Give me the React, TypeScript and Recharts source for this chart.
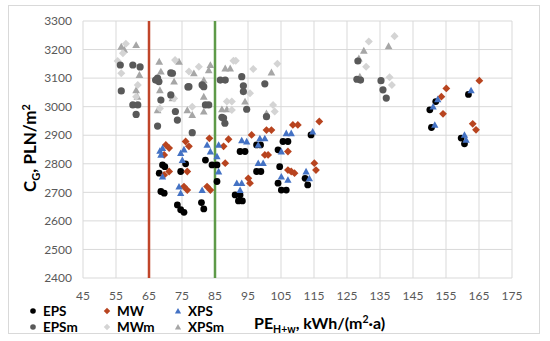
import React from 'react';
import { ScatterChart, Scatter, XAxis, YAxis, CartesianGrid, ReferenceLine, Legend, Label } from 'recharts';

type P = [number, number];

const EPS: P[] = [
  [68.6, 2703], [69.6, 2697], [68.1, 2767], [69.1, 2796], [69.8, 2790], [73.6, 2656], [74.6, 2639], [75.6, 2630],
  [74.6, 2773], [76.1, 2800], [80.9, 2664], [81.6, 2642], [82.1, 2813], [84.1, 2796], [85.6, 2796], [85.6, 2738],
  [91.1, 2691], [92.6, 2691], [92.1, 2670], [93.3, 2670], [92.6, 2843], [94.1, 2843], [97.6, 2866], [98.8, 2866],
  [97.6, 2773], [98.9, 2773], [104.1, 2849], [105.6, 2878], [107.1, 2878], [104.6, 2790], [104.1, 2732],
  [105.1, 2708], [106.6, 2708], [112.3, 2749], [113.1, 2726], [114.1, 2901], [150.1, 2989], [151.9, 3018],
  [150.6, 2927], [161.8, 3043], [159.6, 2890], [160.6, 2870],
];

const MW: P[] = [
  [70.1, 2866], [71.1, 2855], [69.6, 2831], [71.1, 2773], [69.6, 2761], [76.1, 2878], [77.1, 2861], [76.6, 2773],
  [75.6, 2720], [76.6, 2708], [82.6, 2720], [83.6, 2708], [83.3, 2889], [88.1, 2802], [89.1, 2886], [87.6, 2861],
  [95.1, 2749], [95.6, 2732], [96.1, 2901], [100.6, 2918], [102.1, 2918], [100.1, 2831], [101.1, 2831],
  [108.6, 2936], [110.1, 2936], [107.1, 2843], [107.1, 2778], [108.1, 2773], [109.1, 2767], [116.6, 2948],
  [115.1, 2802], [115.6, 2778], [155.1, 3064], [153.6, 3035], [154.1, 2975], [165.1, 3091], [163.1, 2940],
  [164.1, 2919],
];

const XPS: P[] = [
  [69.1, 2855], [68.6, 2831], [69.1, 2755], [68.3, 2845], [74.6, 2837], [75.1, 2813], [74.1, 2720], [74.6, 2697],
  [75.6, 2850], [81.1, 2708], [82.6, 2866], [86.1, 2866], [85.6, 2826], [86.1, 2773], [83.6, 2843], [93.1, 2882],
  [94.6, 2878], [91.6, 2732], [93.1, 2732], [92.6, 2708], [98.6, 2889], [100.1, 2889], [98.1, 2866], [98.1, 2802],
  [99.6, 2802], [106.6, 2907], [108.1, 2907], [105.1, 2843], [105.1, 2755], [107.1, 2744], [114.6, 2913],
  [112.6, 2773], [113.6, 2749], [151.1, 3000], [152.5, 3026], [151.6, 2936], [162.6, 3057], [160.6, 2901],
  [161.1, 2884],
];

const EPSm: P[] = [
  [56.3, 3146], [60.1, 3146], [62.3, 3139], [56.6, 3055], [60.1, 3006], [61.6, 3006], [61.1, 2973], [67, 3093],
  [68, 3088], [67.6, 3100], [71.6, 3118], [72.1, 3117], [76.8, 3069], [71.6, 3041], [73, 2983], [68.6, 3023],
  [67.6, 2932], [73.6, 2953], [78.1, 2909], [82.1, 3006], [83.1, 3006], [81.1, 3076], [81.6, 3070], [77.1, 3070],
  [86.6, 3093], [88.1, 3093], [93.1, 3105], [93.6, 3073], [93.6, 3053], [100.1, 3080], [94.6, 2991], [87.1, 2963],
  [87.6, 2960], [100.6, 2965], [88, 2942], [128.3, 3160], [128, 3096], [129.1, 3093], [135.3, 3091],
  [135.9, 3059], [136.9, 3030],
];

const MWm: P[] = [
  [57.1, 3187], [56.6, 3117], [61.1, 3035], [61.6, 3076], [72.6, 3029], [78.1, 3000], [77.1, 3123], [68.3, 2994],
  [72.9, 3163], [80.1, 3140], [90.6, 3161], [91.3, 3161], [96.6, 3132], [103.9, 3150], [95.6, 3047], [88.6, 3018],
  [90.1, 3018], [90.1, 2988], [103.1, 2983], [102.6, 3006], [131.6, 3228], [130.8, 3140], [139.4, 3247],
  [137.9, 3103], [138.6, 3076], [58, 3220], [55.5, 3160],
];

const XPSm: P[] = [
  [56.6, 3210], [61.1, 3216], [57.5, 3200], [62.1, 3111], [68.1, 3158], [74.1, 3158], [68.6, 3123], [68.3, 3058],
  [72.6, 3088], [61.1, 3058], [61.5, 3035], [67.6, 2988], [72.1, 3030], [76.6, 2988], [78.1, 2971], [78.6, 3117],
  [83.1, 3128], [83.6, 3146], [88.1, 3134], [89.6, 3134], [102.1, 3120], [81.6, 3093], [81.6, 3035], [94.1, 3018],
  [87.1, 2991], [88.6, 2991], [100.6, 2977], [81.6, 2983], [130.1, 3196], [137.6, 3212], [128.9, 3105],
  [128.6, 3169],
];

const X_TICKS = [45, 55, 65, 75, 85, 95, 105, 115, 125, 135, 145, 155, 165, 175];
const Y_TICKS = [2400, 2500, 2600, 2700, 2800, 2900, 3000, 3100, 3200, 3300];
const REF_LINES = [65, 85];

const toPts = (a: P[]) => a.map(([x, y]) => ({ x, y }));

type Kind = 'circle' | 'diamond' | 'triangle';

const C_EPS = '#000000';
const C_MW = '#B8441F';
const C_XPS = '#4472C4';
const C_EPSm = '#595959';
const C_MWm = '#D4D4D4';
const C_XPSm = '#A6A6A6';

function Marker({ kind, cx, cy, color, s }: { kind: Kind; cx: number; cy: number; color: string; s: number }) {
  if (kind === 'circle') return <circle cx={cx} cy={cy} r={s} fill={color} />;
  if (kind === 'diamond') {
    const d = s * 1.15;
    return <polygon points={`${cx},${cy - d} ${cx + d},${cy} ${cx},${cy + d} ${cx - d},${cy}`} fill={color} />;
  }
  const h = s * 1.1;
  return <polygon points={`${cx},${cy - h} ${cx + h},${cy + h * 0.8} ${cx - h},${cy + h * 0.8}`} fill={color} />;
}

const shapeFn = (kind: Kind, color: string, s: number) => (props: any) => (
  <Marker kind={kind} cx={props.cx} cy={props.cy} color={color} s={s} />
);

const LEGEND_ITEMS: { name: string; kind: Kind; color: string; col: number; row: number }[] = [
  { name: 'EPS', kind: 'circle', color: C_EPS, col: 0, row: 0 },
  { name: 'MW', kind: 'diamond', color: C_MW, col: 1, row: 0 },
  { name: 'XPS', kind: 'triangle', color: C_XPS, col: 2, row: 0 },
  { name: 'EPSm', kind: 'circle', color: C_EPSm, col: 0, row: 1 },
  { name: 'MWm', kind: 'diamond', color: C_MWm, col: 1, row: 1 },
  { name: 'XPSm', kind: 'triangle', color: C_XPSm, col: 2, row: 1 },
];

const COL_X = [0, 74, 145];

const renderLegend = () => (
  <div style={{ position: 'relative', width: 220, height: 34 }}>
    {LEGEND_ITEMS.map((it) => (
      <div
        key={it.name}
        style={{
          position: 'absolute',
          left: COL_X[it.col],
          top: it.row * 16,
          height: 16,
          lineHeight: '16px',
          display: 'flex',
          alignItems: 'center',
          fontFamily: 'Lato, sans-serif',
          fontWeight: 700,
          fontSize: 13.5,
          color: '#000',
          whiteSpace: 'nowrap',
        }}
      >
        <svg width={10} height={10} style={{ marginRight: 5 }}>
          <Marker kind={it.kind} cx={5} cy={5} color={it.color} s={2.8} />
        </svg>
        {it.name}
      </div>
    ))}
  </div>
);

const tickStyle = { fontFamily: 'Lato, sans-serif', fontSize: 12, fill: '#595959' };

export default function App() {
  return (
    <div style={{ position: 'absolute', left: 0, top: 0, width: 550, height: 341, background: '#fff' }}>
      <div
        style={{
          position: 'absolute',
          left: 8,
          top: 5,
          width: 532,
          height: 329,
          border: '1px solid #D9D9D9',
          boxSizing: 'border-box',
        }}
      />
      <div style={{ position: 'absolute', left: 0, top: 0 }}>
        <ScatterChart width={550} height={341} margin={{ top: 21, right: 38, bottom: 43, left: 38 }}>
          <CartesianGrid stroke="#D9D9D9" strokeWidth={1} />
          <XAxis
            type="number"
            dataKey="x"
            domain={[45, 175]}
            ticks={X_TICKS}
            interval={0}
            axisLine={false}
            tickLine={false}
            tickMargin={7}
            height={20}
            tick={tickStyle}
            allowDataOverflow
          >
            <Label
              content={() => (
                <text x={254} y={329} fontFamily="Lato, sans-serif" fontWeight={700} fontSize={16} fill="#000">
                  PE
                  <tspan fontSize={10.5} dy={4}>H+w</tspan>
                  <tspan dy={-4}>, kWh/(m</tspan>
                  <tspan fontSize={10.5} dy={-6}>2</tspan>
                  <tspan dy={6}>·a)</tspan>
                </text>
              )}
            />
          </XAxis>
          <YAxis
            type="number"
            dataKey="y"
            domain={[2400, 3300]}
            ticks={Y_TICKS}
            interval={0}
            axisLine={false}
            tickLine={false}
            tickMargin={5}
            width={45}
            tick={tickStyle}
            allowDataOverflow
          >
            <Label
              content={() => (
                <text
                  x={0}
                  y={0}
                  transform="translate(36,148) rotate(-90)"
                  textAnchor="middle"
                  fontFamily="Lato, sans-serif"
                  fontWeight={700}
                  fontSize={17}
                  fill="#000"
                >
                  C
                  <tspan fontSize={11} dy={4}>G</tspan>
                  <tspan dy={-4}>, PLN/m</tspan>
                  <tspan fontSize={11} dy={-6}>2</tspan>
                </text>
              )}
            />
          </YAxis>
          {REF_LINES.map((v, i) => (
            <ReferenceLine key={v} x={v} stroke={i === 0 ? '#C0452A' : '#5E9A48'} strokeWidth={2.5} ifOverflow="extendDomain" />
          ))}
          <Scatter name="XPSm" data={toPts(XPSm)} shape={shapeFn('triangle', C_XPSm, 3.5)} isAnimationActive={false} />
          <Scatter name="MWm" data={toPts(MWm)} shape={shapeFn('diamond', C_MWm, 3.5)} isAnimationActive={false} />
          <Scatter name="EPSm" data={toPts(EPSm)} shape={shapeFn('circle', C_EPSm, 3.6)} isAnimationActive={false} />
          <Scatter name="EPS" data={toPts(EPS)} shape={shapeFn('circle', C_EPS, 3.4)} isAnimationActive={false} />
          <Scatter name="MW" data={toPts(MW)} shape={shapeFn('diamond', C_MW, 3.4)} isAnimationActive={false} />
          <Scatter name="XPS" data={toPts(XPS)} shape={shapeFn('triangle', C_XPS, 3.3)} isAnimationActive={false} />
          <Legend
            layout="horizontal"
            align="center"
            verticalAlign="middle"
            content={renderLegend}
            wrapperStyle={{ left: 28, top: 303, width: 220, height: 34 }}
          />
        </ScatterChart>
      </div>
    </div>
  );
}
